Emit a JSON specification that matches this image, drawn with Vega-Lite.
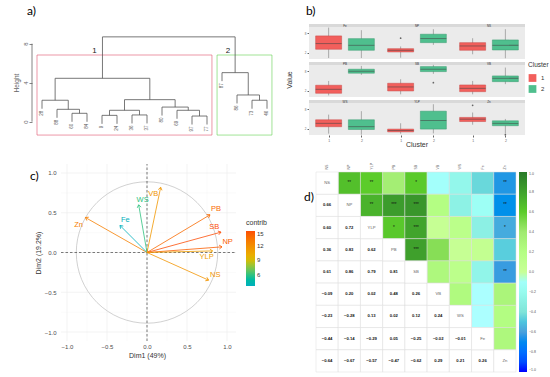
{
"$schema":"https://vega.github.io/schema/vega-lite/v6.json",
"background":"white",
"padding":{"left":13,"top":5,"right":0,"bottom":0},
"config":{"view":{"stroke":null},"font":"Liberation Sans",
 "axis":{"labelFont":"Liberation Sans","titleFont":"Liberation Sans","titleFontWeight":"normal"},
 "legend":{"titleFontWeight":"normal","labelFont":"Liberation Sans","titleFont":"Liberation Sans"},
 "header":{"labels":false,"labelFontSize":0.1,"labelPadding":0},
 "title":{"font":"Lato","fontSize":12,"fontWeight":"normal","anchor":"start","frame":"group","color":"#000"}},
"datasets":{
 "dendro":[
  {"xl":3,"xr":4,"hl":-0.01,"hr":-0.01,"h":0.86},
  {"xl":2,"xr":3.5,"hl":0.4,"hr":0.86,"h":1.27},
  {"xl":1,"xr":2.75,"hl":1.33,"hr":1.27,"h":2.2},
  {"xl":5,"xr":6,"hl":-0.22,"hr":-0.22,"h":0.65},
  {"xl":7,"xr":8,"hl":-0.18,"hr":-0.18,"h":0.69},
  {"xl":5.5,"xr":7.5,"hl":0.65,"hr":0.69,"h":1.17},
  {"xl":11,"xr":12,"hl":-0.29,"hr":-0.29,"h":0.58},
  {"xl":10,"xr":11.5,"hl":0.3,"hr":0.58,"h":1.17},
  {"xl":9,"xr":10.75,"hl":0.63,"hr":1.17,"h":1.5},
  {"xl":6.5,"xr":9.875,"hl":1.17,"hr":1.5,"h":2.26},
  {"xl":1.875,"xr":8.1875,"hl":2.2,"hr":2.26,"h":4.45},
  {"xl":15,"xr":16,"hl":1.33,"hr":1.33,"h":2.2},
  {"xl":14,"xr":15.5,"hl":1.87,"hr":2.2,"h":2.74},
  {"xl":13,"xr":14.75,"hl":4.16,"hr":2.74,"h":5.03},
  {"xl":5.03,"xr":13.875,"hl":4.45,"hr":5.03,"h":8.7}
 ],
 "leaves":[
  {"i":1,"lab":"28","end":1.33},{"i":2,"lab":"88","end":0.4},{"i":3,"lab":"60","end":-0.01},{"i":4,"lab":"84","end":-0.01},
  {"i":5,"lab":"9","end":-0.22},{"i":6,"lab":"24","end":-0.22},{"i":7,"lab":"36","end":-0.18},{"i":8,"lab":"37","end":-0.18},
  {"i":9,"lab":"80","end":0.63},{"i":10,"lab":"69","end":0.3},{"i":11,"lab":"97","end":-0.29},{"i":12,"lab":"77","end":-0.29},
  {"i":13,"lab":"87","end":4.16},{"i":14,"lab":"86","end":1.87},{"i":15,"lab":"73","end":1.33},{"i":16,"lab":"46","end":1.33}
 ],
 "clus":[
  {"k":"1","x1":0.667,"x2":12.33,"y1":-1.37,"y2":6.84,"lx":4.5,"ly":7.25},
  {"k":"2","x1":12.67,"x2":16.33,"y1":-1.37,"y2":6.84,"lx":13.4,"ly":7.25}
 ],
 "box":[
  {"var":"Fe","cluster":1,"lo":0.3,"q1":3.03,"med":4.78,"q3":7.19,"hi":9.78},
  {"var":"Fe","cluster":2,"lo":0.3,"q1":2.72,"med":4.28,"q3":6.34,"hi":8.97},
  {"var":"NP","cluster":1,"lo":0.4,"q1":2.19,"med":2.72,"q3":3.22,"hi":3.9},
  {"var":"NP","cluster":2,"lo":4.4,"q1":5.09,"med":6.34,"q3":7.72,"hi":9.28},
  {"var":"NS","cluster":1,"lo":1.47,"q1":2.72,"med":4.06,"q3":5.09,"hi":6.47},
  {"var":"NS","cluster":2,"lo":0.22,"q1":2.81,"med":4.28,"q3":5.94,"hi":9.28},
  {"var":"PB","cluster":1,"lo":0.5,"q1":1.16,"med":2.41,"q3":3.66,"hi":5.0},
  {"var":"PB","cluster":2,"lo":6.9,"q1":7.41,"med":8.03,"q3":8.66,"hi":9.69},
  {"var":"SB","cluster":1,"lo":0.84,"q1":1.88,"med":3.13,"q3":4.28,"hi":5.53},
  {"var":"SB","cluster":2,"lo":7.2,"q1":7.91,"med":8.66,"q3":9.47,"hi":10},
  {"var":"VB","cluster":1,"lo":0.84,"q1":1.66,"med":2.72,"q3":3.75,"hi":5.0},
  {"var":"VB","cluster":2,"lo":4.0,"q1":4.78,"med":5.84,"q3":6.56,"hi":9.16},
  {"var":"WS","cluster":1,"lo":0.42,"q1":2.58,"med":3.65,"q3":4.74,"hi":6.35},
  {"var":"WS","cluster":2,"lo":0.1,"q1":1.71,"med":2.58,"q3":4.74,"hi":7.42},
  {"var":"YLP","cluster":1,"lo":0.4,"q1":0.97,"med":1.39,"q3":1.84,"hi":3.65},
  {"var":"YLP","cluster":2,"lo":0.5,"q1":1.84,"med":4.52,"q3":7.42,"hi":9.58},
  {"var":"Zn","cluster":1,"lo":3.2,"q1":4.19,"med":4.94,"q3":5.48,"hi":7.0},
  {"var":"Zn","cluster":2,"lo":0.42,"q1":2.9,"med":3.65,"q3":4.42,"hi":5.0},
  {"var":"NP","cluster":1,"out":6.47},
  {"var":"SB","cluster":2,"out":4.47},
  {"var":"Zn","cluster":1,"out":9.26},
  {"var":"Zn","cluster":2,"out":0.1}
 ],
 "pca":[
  {"v":"Zn","x":-0.77,"y":0.44,"contrib":12.8,"lx":-0.855,"ly":0.347},
  {"v":"Fe","x":-0.3375,"y":0.34,"contrib":3.7,"lx":-0.271,"ly":0.41},
  {"v":"WS","x":-0.104,"y":0.6,"contrib":6.0,"lx":-0.055,"ly":0.66},
  {"v":"VB","x":0.171,"y":0.82,"contrib":11.4,"lx":0.079,"ly":0.737},
  {"v":"PB","x":0.7875,"y":0.474,"contrib":13.8,"lx":0.8625,"ly":0.548},
  {"v":"SB","x":0.925,"y":0.256,"contrib":15.0,"lx":0.841,"ly":0.318},
  {"v":"NP","x":0.9375,"y":0.071,"contrib":14.4,"lx":1.0075,"ly":0.138},
  {"v":"YLP","x":0.82,"y":0.02,"contrib":11.0,"lx":0.745,"ly":-0.059},
  {"v":"NS","x":0.77,"y":-0.348,"contrib":11.6,"lx":0.854,"ly":-0.282}
 ],
 "grid":[
  {"v":-1,"kind":"major"},{"v":-0.5,"kind":"major"},{"v":0,"kind":"major"},{"v":0.5,"kind":"major"},{"v":1,"kind":"major"},
  {"v":-0.75,"kind":"minor"},{"v":-0.25,"kind":"minor"},{"v":0.25,"kind":"minor"},{"v":0.75,"kind":"minor"}
 ],
 "pairs":[
  {"a":"NS","b":"NP","r":0.66,"s":"**"},{"a":"NS","b":"YLP","r":0.60,"s":"**"},{"a":"NS","b":"PB","r":0.36,"s":""},
  {"a":"NS","b":"SB","r":0.61,"s":"*"},{"a":"NS","b":"VB","r":-0.09,"s":""},{"a":"NS","b":"WS","r":-0.23,"s":""},
  {"a":"NS","b":"Fe","r":-0.44,"s":""},{"a":"NS","b":"Zn","r":-0.64,"s":"**"},
  {"a":"NP","b":"YLP","r":0.72,"s":"**"},{"a":"NP","b":"PB","r":0.83,"s":"***"},{"a":"NP","b":"SB","r":0.86,"s":"***"},
  {"a":"NP","b":"VB","r":0.20,"s":""},{"a":"NP","b":"WS","r":-0.28,"s":""},{"a":"NP","b":"Fe","r":-0.14,"s":""},
  {"a":"NP","b":"Zn","r":-0.67,"s":"**"},
  {"a":"YLP","b":"PB","r":0.62,"s":"*"},{"a":"YLP","b":"SB","r":0.79,"s":"***"},{"a":"YLP","b":"VB","r":0.02,"s":""},
  {"a":"YLP","b":"WS","r":0.13,"s":""},{"a":"YLP","b":"Fe","r":-0.29,"s":""},{"a":"YLP","b":"Zn","r":-0.57,"s":"*"},
  {"a":"PB","b":"SB","r":0.81,"s":"***"},{"a":"PB","b":"VB","r":0.48,"s":""},{"a":"PB","b":"WS","r":0.02,"s":""},
  {"a":"PB","b":"Fe","r":0.05,"s":""},{"a":"PB","b":"Zn","r":-0.47,"s":""},
  {"a":"SB","b":"VB","r":0.26,"s":""},{"a":"SB","b":"WS","r":0.12,"s":""},{"a":"SB","b":"Fe","r":-0.25,"s":""},
  {"a":"SB","b":"Zn","r":-0.62,"s":"**"},
  {"a":"VB","b":"WS","r":0.24,"s":""},{"a":"VB","b":"Fe","r":-0.02,"s":""},{"a":"VB","b":"Zn","r":0.29,"s":""},
  {"a":"WS","b":"Fe","r":-0.01,"s":""},{"a":"WS","b":"Zn","r":0.21,"s":""},
  {"a":"Fe","b":"Zn","r":0.26,"s":""}
 ],
 "diag":[{"v":"NS"},{"v":"NP"},{"v":"YLP"},{"v":"PB"},{"v":"SB"},{"v":"VB"},{"v":"WS"},{"v":"Fe"},{"v":"Zn"}]
},
"hconcat":[
 {"vconcat":[
  {"width":247,"height":117,
   "title":{"text":"a)","dx":-5,"offset":6},
   "layer":[
    {"data":{"name":"clus"},"mark":{"type":"rect","filled":false,"strokeWidth":0.8,"opacity":0.75},
     "encoding":{
      "x":{"field":"x1","type":"quantitative","scale":{"domain":[0.333,16.8],"nice":false,"zero":false},"axis":null},
      "x2":{"field":"x2"},
      "y":{"field":"y1","type":"quantitative","title":"Height","scale":{"domain":[-1.98,10.02],"nice":false,"zero":false},
           "axis":{"values":[0,2,4,6,8],"domain":false,"grid":false,"labelAngle":270,"labelFontSize":6,"labelColor":"#666","tickColor":"#666","tickSize":3,"tickWidth":0.8,"titleFontSize":6.5,"titleColor":"#666","labelPadding":1,"titlePadding":3}},
      "y2":{"field":"y2"},
      "stroke":{"field":"k","type":"nominal","scale":{"range":["#DF536B","#61D04F"]},"legend":null}}},
    {"data":{"values":[{}]},"mark":{"type":"rule","color":"#666","strokeWidth":0.8},
     "encoding":{"x":{"datum":0.333},"y":{"datum":0},"y2":{"datum":8}}},
    {"data":{"name":"dendro"},"mark":{"type":"rule","color":"#555","strokeWidth":0.8},
     "encoding":{"x":{"field":"xl","type":"quantitative"},"x2":{"field":"xr"},"y":{"field":"h","type":"quantitative","title":"Height"}}},
    {"data":{"name":"dendro"},"mark":{"type":"rule","color":"#555","strokeWidth":0.8},
     "encoding":{"x":{"field":"xl","type":"quantitative"},"y":{"field":"hl","type":"quantitative","title":"Height"},"y2":{"field":"h"}}},
    {"data":{"name":"dendro"},"mark":{"type":"rule","color":"#555","strokeWidth":0.8},
     "encoding":{"x":{"field":"xr","type":"quantitative"},"y":{"field":"hr","type":"quantitative","title":"Height"},"y2":{"field":"h"}}},
    {"data":{"name":"leaves"},"mark":{"type":"text","angle":270,"align":"right","baseline":"middle","dx":-2,"fontSize":4.5,"color":"#555"},
     "encoding":{"x":{"field":"i","type":"quantitative"},"y":{"field":"end","type":"quantitative","title":"Height"},"text":{"field":"lab"}}},
    {"data":{"name":"clus"},"mark":{"type":"text","fontSize":8,"color":"#222"},
     "encoding":{"x":{"field":"lx","type":"quantitative"},"y":{"field":"ly","type":"quantitative","title":"Height"},"text":{"field":"k"}}}
   ]},
  {"width":204,"height":177,
   "title":{"text":"c)","dx":-2,"offset":0,"dy":19},
   "layer":[
    {"data":{"name":"grid"},"transform":[{"filter":"datum.kind == 'major'"}],"mark":{"type":"rule","color":"#EBEBEB","strokeWidth":0.6},
     "encoding":{"x":{"field":"v","type":"quantitative","scale":{"domain":[-1.4375,1.1125],"nice":false,"zero":false},
        "axis":{"title":"Dim1 (49%)","values":[-1,-0.5,0,0.5,1],"format":".1f","grid":false,"domain":false,"ticks":false,"labelFontSize":6,"labelColor":"#4D4D4D","labelPadding":2,"titleFontSize":7,"titleColor":"#333","titlePadding":2,"titleX":115}},
      "y":{"datum":-1.113},"y2":{"datum":1.113}}},
    {"data":{"name":"grid"},"transform":[{"filter":"datum.kind == 'minor'"}],"mark":{"type":"rule","color":"#F2F2F2","strokeWidth":0.4},
     "encoding":{"x":{"field":"v","type":"quantitative"},"y":{"datum":-1.113},"y2":{"datum":1.113}}},
    {"data":{"name":"grid"},"transform":[{"filter":"datum.kind == 'major'"}],"mark":{"type":"rule","color":"#EBEBEB","strokeWidth":0.6},
     "encoding":{"y":{"field":"v","type":"quantitative","scale":{"domain":[-1.113,1.113],"nice":false,"zero":false},
        "axis":{"title":"Dim2 (19.2%)","offset":-27,"values":[-1,-0.5,0,0.5,1],"format":".1f","grid":false,"domain":false,"ticks":false,"labelFontSize":6,"labelColor":"#4D4D4D","labelPadding":3,"titleFontSize":7,"titleColor":"#333","titlePadding":3}},
      "x":{"datum":-1.075},"x2":{"datum":1.1125}}},
    {"data":{"name":"grid"},"transform":[{"filter":"datum.kind == 'minor'"}],"mark":{"type":"rule","color":"#F2F2F2","strokeWidth":0.4},
     "encoding":{"y":{"field":"v","type":"quantitative"},"x":{"datum":-1.075},"x2":{"datum":1.1125}}},
    {"data":{"values":[{}]},"mark":{"type":"point","shape":"circle","filled":false,"size":20000,"color":"#BDBDBD","strokeWidth":0.7,"opacity":1},
     "encoding":{"x":{"datum":0},"y":{"datum":0}}},
    {"data":{"values":[{}]},"mark":{"type":"rule","color":"#444","strokeWidth":0.7,"strokeDash":[2.5,2]},
     "encoding":{"x":{"datum":0},"y":{"datum":-1.113},"y2":{"datum":1.113}}},
    {"data":{"values":[{}]},"mark":{"type":"rule","color":"#444","strokeWidth":0.7,"strokeDash":[2.5,2]},
     "encoding":{"y":{"datum":0},"x":{"datum":-1.075},"x2":{"datum":1.1125}}},
    {"data":{"name":"pca"},"mark":{"type":"rule","strokeWidth":0.8},
     "encoding":{"x":{"field":"x","type":"quantitative"},"y":{"field":"y","type":"quantitative"},"x2":{"datum":0},"y2":{"datum":0},
      "stroke":{"field":"contrib","type":"quantitative","scale":{"domain":[3.7,9.35,15],"range":["#00AFBB","#E7B800","#FC4E07"]},
        "legend":{"type":"gradient","orient":"none","legendX":214,"legendY":55,"title":"contrib","titleFontSize":7,"titleColor":"#333","labelFontSize":6,"labelColor":"#333","gradientLength":55,"gradientThickness":9,"values":[6,9,12,15],"direction":"vertical"}}}},
    {"data":{"name":"pca"},"transform":[{"calculate":"atan2(datum.x, datum.y) * 180 / PI","as":"ang"}],
     "mark":{"type":"point","shape":"M-0.7,1L0,0L0.7,1","filled":false,"size":30,"strokeWidth":0.8,"opacity":1},
     "encoding":{"x":{"field":"x","type":"quantitative"},"y":{"field":"y","type":"quantitative"},
      "angle":{"field":"ang","type":"quantitative","scale":null},
      "stroke":{"field":"contrib","type":"quantitative"}}},
    {"data":{"name":"pca"},"mark":{"type":"text","fontSize":7.5},
     "encoding":{"x":{"field":"lx","type":"quantitative"},"y":{"field":"ly","type":"quantitative"},"text":{"field":"v"},
      "fill":{"field":"contrib","type":"quantitative","scale":{"domain":[3.7,9.35,15],"range":["#00AFBB","#E7B800","#FC4E07"]},"legend":null}}}
   ]}
 ],"spacing":22},
 {"vconcat":[
  {"data":{"name":"box"},
   "title":{"text":"b)","dx":-3,"offset":6},
   "transform":[
    {"calculate":"indexof(['Fe','NP','NS','PB','SB','VB','WS','YLP','Zn'], datum.var)","as":"idx"},
    {"calculate":"floor(datum.idx / 3)","as":"prow"},
    {"calculate":"datum.idx % 3","as":"pcol"}],
   "facet":{
    "row":{"field":"prow","type":"ordinal","header":{"title":"Value","titleOrient":"left","labels":false,"titleFontSize":7,"titleFontWeight":"normal","titleColor":"#333","titlePadding":1}},
    "column":{"field":"pcol","type":"ordinal","header":{"title":"Cluster","titleOrient":"bottom","labels":false,"titleFontSize":7,"titleFontWeight":"normal","titleColor":"#333","titlePadding":-11}}},
   "spacing":{"row":3,"column":-2},
   "bounds":"flush",
   "spec":{
    "width":72,"height":35,
    "view":{"fill":"#EBEBEB"},
    "layer":[
     {"transform":[{"filter":"datum.cluster == 1 && isValid(datum.q1)"}],"mark":{"type":"rect","color":"#D9D9D9"},
      "encoding":{"x":{"value":0},"x2":{"value":"width"},"y":{"datum":10},"y2":{"datum":10.9}}},
     {"transform":[{"filter":"datum.cluster == 1 && isValid(datum.q1)"}],"mark":{"type":"text","fontSize":3,"color":"#333"},
      "encoding":{"x":{"datum":1.5},"y":{"datum":10.45},"text":{"field":"var"}}},
     {"transform":[{"filter":"isValid(datum.q1)"}],"mark":{"type":"rule","strokeWidth":0.5,"color":"#666"},
      "encoding":{
       "x":{"field":"cluster","type":"quantitative","title":null,"scale":{"domain":[0.4,2.6],"nice":false,"zero":false,"padding":0},
         "axis":{"values":[1,2],"domain":false,"gridColor":"white","gridWidth":0.6,"labelFontSize":3.5,"labelColor":"#666","tickSize":2,"tickColor":"#666","labelPadding":1}},
       "y":{"field":"lo","type":"quantitative","title":null,"scale":{"domain":[0,10.9],"nice":false,"zero":false,"padding":0},
         "axis":{"values":[2,4,6,8],"domain":false,"gridColor":"white","gridWidth":0.6,"labelFontSize":3,"labelColor":"#666","tickSize":2,"tickColor":"#666","labelPadding":1}},
       "y2":{"field":"hi"}}},
     {"transform":[{"filter":"isValid(datum.q1)"}],"mark":{"type":"bar","size":26,"strokeWidth":0.5},
      "encoding":{"x":{"field":"cluster","type":"quantitative","title":null},"y":{"field":"q1","type":"quantitative","title":null},"y2":{"field":"q3"},
       "color":{"field":"cluster","type":"nominal","scale":{"domain":[1,2],"range":["#F25F5C","#4FBF8E"]},
         "legend":{"orient":"none","legendX":219,"legendY":38,"title":"Cluster","titleFontSize":6.5,"titleColor":"#333","labelFontSize":6,"labelColor":"#333","symbolType":"square","symbolSize":60,"symbolStrokeWidth":0.5,"rowPadding":2}},
       "stroke":{"field":"cluster","type":"nominal","scale":{"domain":[1,2],"range":["#C94A48","#3A9A70"]},"legend":null}}},
     {"transform":[{"filter":"isValid(datum.q1)"}],"mark":{"type":"tick","orient":"horizontal","size":26,"thickness":0.8,"color":"#444"},
      "encoding":{"x":{"field":"cluster","type":"quantitative","title":null},"y":{"field":"med","type":"quantitative","title":null}}},
     {"transform":[{"filter":"isValid(datum.out)"}],"mark":{"type":"point","filled":true,"size":3,"color":"#666","opacity":1},
      "encoding":{"x":{"field":"cluster","type":"quantitative","title":null},"y":{"field":"out","type":"quantitative","title":null}}}
    ]}
  },
  {"width":216,"height":200,
   "title":{"text":"d)","dx":-5,"offset":0,"dy":42},
   "layer":[
    {"data":{"name":"pairs"},"mark":{"type":"rect","stroke":"#DDDDDD","strokeWidth":0.5},
     "encoding":{
      "x":{"field":"b","type":"nominal","scale":{"domain":["NS","NP","YLP","PB","SB","VB","WS","Fe","Zn"],"range":[7,207],"paddingInner":0,"paddingOuter":0},
        "axis":{"orient":"top","title":null,"labelAngle":270,"labelFontSize":3.5,"labelColor":"#666","ticks":false,"domain":false,"labelPadding":3}},
      "y":{"field":"a","type":"nominal","scale":{"domain":["NS","NP","YLP","PB","SB","VB","WS","Fe","Zn"],"paddingInner":0,"paddingOuter":0},"axis":null},
      "color":{"field":"r","type":"quantitative","scale":{"domain":[-1,-0.6,-0.4,0,0.4,0.6,1],"range":["#0000ff","#4aa0dc","#80e4d8","#ffffff","#a0ea70","#5ccc2a","#2a7a28"]},
        "legend":{"type":"gradient","orient":"none","legendX":210,"legendY":0,"title":null,"gradientLength":200,"gradientThickness":8,"values":[-1,-0.8,-0.6,-0.4,-0.2,0,0.2,0.4,0.6,0.8,1],"labelFontSize":3.5,"labelColor":"#555","direction":"vertical"}}}},
    {"data":{"name":"pairs"},"mark":{"type":"text","fontSize":4.5,"color":"#111"},
     "encoding":{"x":{"field":"b","type":"nominal"},"y":{"field":"a","type":"nominal"},"text":{"field":"s"}}},
    {"data":{"name":"pairs"},"mark":{"type":"rect","fill":"white","stroke":"#DDDDDD","strokeWidth":0.5},
     "encoding":{"x":{"field":"a","type":"nominal"},"y":{"field":"b","type":"nominal"}}},
    {"data":{"name":"pairs"},"mark":{"type":"text","fontSize":4.2,"fontWeight":"bold","color":"#111"},
     "encoding":{"x":{"field":"a","type":"nominal"},"y":{"field":"b","type":"nominal"},"text":{"field":"r","type":"quantitative","format":".2f"}}},
    {"data":{"name":"diag"},"mark":{"type":"rect","fill":"white","stroke":"#DDDDDD","strokeWidth":0.5},
     "encoding":{"x":{"field":"v","type":"nominal"},"y":{"field":"v","type":"nominal"}}},
    {"data":{"name":"diag"},"mark":{"type":"text","fontSize":4.2,"color":"#666"},
     "encoding":{"x":{"field":"v","type":"nominal"},"y":{"field":"v","type":"nominal"},"text":{"field":"v"}}}
   ]}
 ],"spacing":14}
],
"spacing":7
}
